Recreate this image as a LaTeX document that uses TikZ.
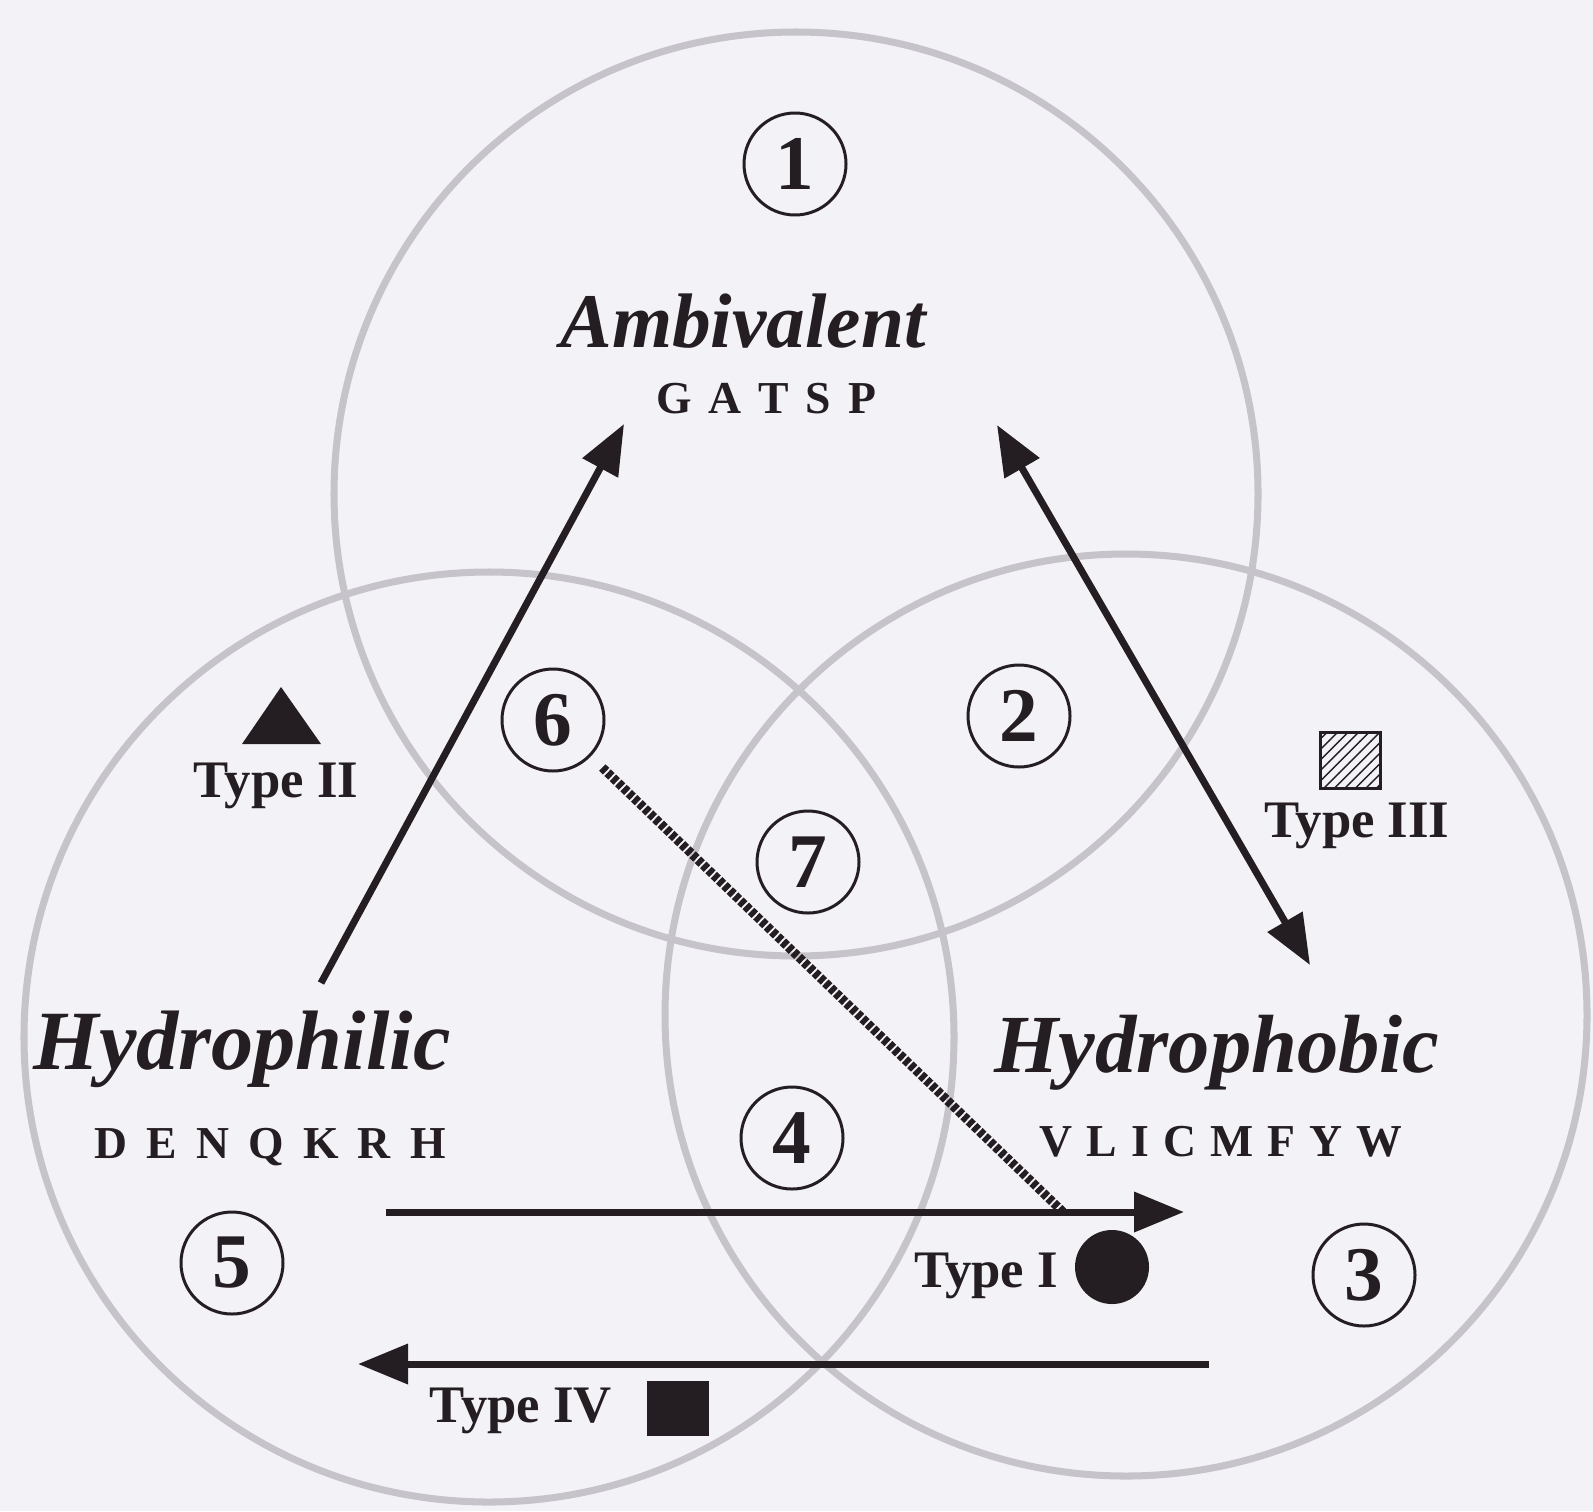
\documentclass[tikz,border=0pt]{standalone}
\usepackage{fontspec}
\setmainfont{Liberation Serif}
\usetikzlibrary{arrows.meta,patterns}
\definecolor{paper}{RGB}{243,242,246}
\definecolor{ringgray}{RGB}{198,196,202}
\definecolor{ink}{RGB}{36,29,33}
\newcommand{\widespaces}[1]{\spaceskip #1em\relax}

\begin{document}
\begin{tikzpicture}[x=0.1mm, y=-0.1mm,
  ring/.style={draw=ringgray, line width=2pt},
  num/.style={circle, draw=ink, line width=0.85pt, minimum size=10.2mm, inner sep=0pt,
              text=ink, font=\bfseries\fontsize{22}{22}\selectfont},
  group/.style={anchor=base, text=ink, font=\bfseries\itshape\fontsize{24}{26}\selectfont},
  residues/.style={anchor=base, text=ink, font=\bfseries\fontsize{13}{15}\selectfont\widespaces{#1}},
  residues/.default=0.37,
  typelbl/.style={anchor=base, text=ink, font=\bfseries\fontsize{15}{17}\selectfont},
  arr/.style={-{Triangle[length=5mm, width=3.9mm]}, line width=2pt, draw=ink},
  dblarr/.style={{Triangle[length=5mm, width=3.9mm]}-{Triangle[length=5mm, width=3.9mm]}, line width=2pt, draw=ink},
  dotline/.style={draw=ink, line width=2.6pt, dash pattern=on 1.5pt off 0.6pt}
]
  \fill[paper] (0,0) rectangle (1593,1511);
  \useasboundingbox (0,0) rectangle (1593,1511);

  % the three sets
  \draw[ring] (796,494)  circle (462);
  \draw[ring] (489,1037) circle (465);
  \draw[ring] (1126,1015) circle (461);

  \node[group, font=\bfseries\itshape\fontsize{22}{24}\selectfont] (amb) at (743,347) {Ambivalent};
  \node[residues] (ambres) at (766,413) {G A T S P};
  \node[group] (phil) at (242,1069) {Hydrophilic};
  \node[residues=0.42] (philres) at (270,1158) {D E N Q K R H};
  \node[group, font=\bfseries\itshape\fontsize{23.5}{26}\selectfont] (phob) at (1217,1072) {Hydrophobic};
  \node[residues=0.31] (phobres) at (1221,1156) {V L I C M F Y W};

  \node[num] (n1) at (795,164)  {1};
  \node[num] (n2) at (1019,716) {2};
  \node[num] (n3) at (1364,1275) {3};
  \node[num] (n4) at (792,1138) {4};
  \node[num] (n5) at (232,1263) {5};
  \node[num] (n6) at (553,720)  {6};
  \node[num] (n7) at (808,862)  {7};

  % markers
  \fill[ink] (242,744) -- (321,744) -- (281,687) -- cycle;
  \node[typelbl] (t2) at (276,797) {Type II};
  \node[draw=ink, line width=0.85pt, pattern=north east lines, pattern color=ink,
        minimum width=6mm, minimum height=5.6mm, inner sep=0pt] (sq3) at (1350,760) {};
  \node[typelbl] (t3) at (1357,837) {Type III};
  \node[circle, fill=ink, minimum size=7.4mm, inner sep=0pt] (dot1) at (1112,1267) {};
  \node[typelbl] (t1) at (986,1287) {Type I};
  \node[fill=ink, minimum width=6.2mm, minimum height=5.5mm, inner sep=0pt] (sq4) at (678,1408) {};
  \node[typelbl] (t4) at (521,1422) {Type IV};

  % transitions
  \coordinate (a2s) at (321,983);
  \coordinate (a2e) at (624,424);
  \coordinate (a3s) at (997,425);
  \coordinate (a3e) at (1310,965);
  \coordinate (a1s) at (386,1212);
  \coordinate (a1e) at (1184,1212);
  \coordinate (a4s) at (1209,1364);
  \coordinate (a4e) at (358,1364);
  \coordinate (a1m) at (1063,1212);

  \draw[arr] (a2s) -- (a2e);
  \draw[dblarr] (a3s) -- (a3e);
  \draw[arr] (a1s) -- (a1e);
  \draw[arr] (a4s) -- (a4e);
  \draw[dotline, shorten <=1.6mm] (n6) -- (a1m);
\end{tikzpicture}
\end{document}
